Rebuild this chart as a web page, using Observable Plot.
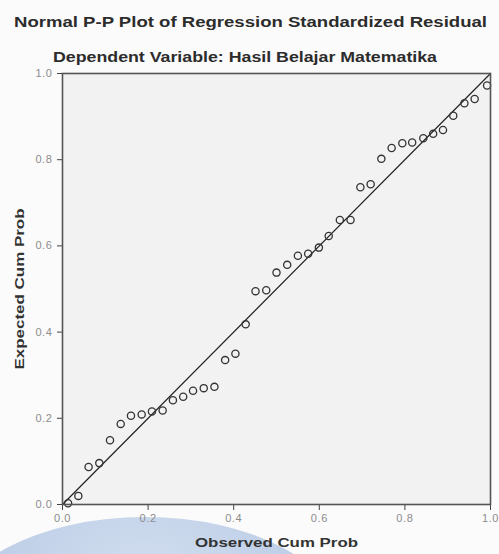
<!DOCTYPE html>
<html>
<head>
<meta charset="utf-8">
<script src="https://cdn.jsdelivr.net/npm/d3@7"></script>
<script src="https://cdn.jsdelivr.net/npm/@observablehq/plot@0.6"></script>
<style>
  body { margin: 0; background: #fbfbfb; font-family: "Liberation Sans", Arial, sans-serif; }
  #wrap { position: relative; width: 499px; height: 554px; overflow: hidden; }
  #blob { position: absolute; left: -50px; top: 517px; width: 390px; height: 210px; border-radius: 50%;
          background: radial-gradient(ellipse at 50% 30%, #d3dff0 0%, #bccde6 60%, #aebfdd 100%); z-index: 0; }
  #content { position: relative; z-index: 1; padding-top: 64px; }
  .title { position: absolute; font-weight: bold; color: #2c2c2c; white-space: nowrap; transform-origin: 0 50%; }
  #t1 { top: 13px; font-size: 14px; line-height: 18px; }
  #t2 { top: 48px; font-size: 14px; line-height: 18px; }
  g[aria-label="x-axis tick label"] text, g[aria-label="y-axis tick label"] text { fill: #8c8c8c; letter-spacing: 0.6px; }
  g[aria-label="x-axis label"] text, g[aria-label="y-axis label"] text { font-weight: bold; fill: #333; font-size: 13px; }
</style>
</head>
<body>
<div id="wrap">
  <div id="blob"></div>
  <div id="content">
    <div class="title" id="t1">Normal P-P Plot of Regression Standardized Residual</div>
    <div class="title" id="t2">Dependent Variable: Hasil Belajar Matematika</div>
    <div id="chart"></div>
  </div>
</div>
<script>
const observedCumProb = [0.013, 0.037, 0.061, 0.086, 0.111, 0.136, 0.160, 0.185, 0.209, 0.234,
  0.258, 0.282, 0.305, 0.330, 0.355, 0.380, 0.404, 0.428, 0.451, 0.476,
  0.500, 0.525, 0.550, 0.574, 0.599, 0.622, 0.648, 0.673, 0.696, 0.720,
  0.745, 0.769, 0.794, 0.817, 0.843, 0.866, 0.889, 0.913, 0.939, 0.963, 0.992];
const expectedCumProb = [0.003, 0.020, 0.087, 0.096, 0.149, 0.187, 0.206, 0.209, 0.216, 0.218,
  0.242, 0.250, 0.264, 0.270, 0.273, 0.335, 0.350, 0.418, 0.495, 0.497,
  0.538, 0.556, 0.577, 0.582, 0.596, 0.623, 0.660, 0.660, 0.736, 0.743,
  0.802, 0.827, 0.838, 0.840, 0.850, 0.860, 0.869, 0.902, 0.931, 0.941, 0.972];
const tickValues = [0.0, 0.2, 0.4, 0.6, 0.8, 1.0];
const referenceLine = [0, 1];
const xLabel = "Observed Cum Prob";
const yLabel = "Expected Cum Prob";

const points = observedCumProb.map((x, i) => ({x, y: expectedCumProb[i]}));
const diag = referenceLine.map(v => ({x: v, y: v}));

const chart = Plot.plot({
  width: 499,
  height: 490,
  marginTop: 9,
  marginRight: 9,
  marginBottom: 50,
  marginLeft: 62,
  style: {background: "transparent", fontFamily: "'Liberation Sans', Arial, sans-serif", overflow: "visible"},
  x: {domain: [0, 1]},
  y: {domain: [0, 1]},
  marks: [
    Plot.frame({fill: "#f2f2f2", stroke: "none"}),
    Plot.axisX({ticks: tickValues, tickFormat: d => d.toFixed(1), tickSize: 6, tickPadding: 4, fontSize: 11,
      stroke: "#444", label: xLabel, labelAnchor: "center", labelArrow: "none", labelOffset: 42}),
    Plot.axisY({ticks: tickValues, tickFormat: d => d.toFixed(1), tickSize: 5, tickPadding: 5, fontSize: 11,
      stroke: "#444", label: yLabel, labelAnchor: "center", labelArrow: "none", labelOffset: 48}),
    Plot.line(diag, {x: "x", y: "y", stroke: "#222", strokeWidth: 1.2}),
    Plot.dot(points, {x: "x", y: "y", r: 3.6, stroke: "#333", strokeWidth: 1.3, fill: "none"}),
    Plot.frame({stroke: "#555", strokeWidth: 1.6})
  ]
});
document.getElementById("chart").appendChild(chart);

// widen the bold titles to the scanned reference's wide lettering
function stretchTitle(id, left, targetWidth) {
  const el = document.getElementById(id);
  const w = el.getBoundingClientRect().width;
  el.style.left = left + "px";
  el.style.transform = `scaleX(${targetWidth / w})`;
}
stretchTitle("t1", 14, 473);
stretchTitle("t2", 53, 384);

function stretchLabel(sel, len) {
  chart.querySelectorAll(sel).forEach(t => {
    t.setAttribute("textLength", len);
    t.setAttribute("lengthAdjust", "spacingAndGlyphs");
  });
}
stretchLabel('g[aria-label="x-axis label"] text', 163);
stretchLabel('g[aria-label="y-axis label"] text', 161);
</script>
</body>
</html>
